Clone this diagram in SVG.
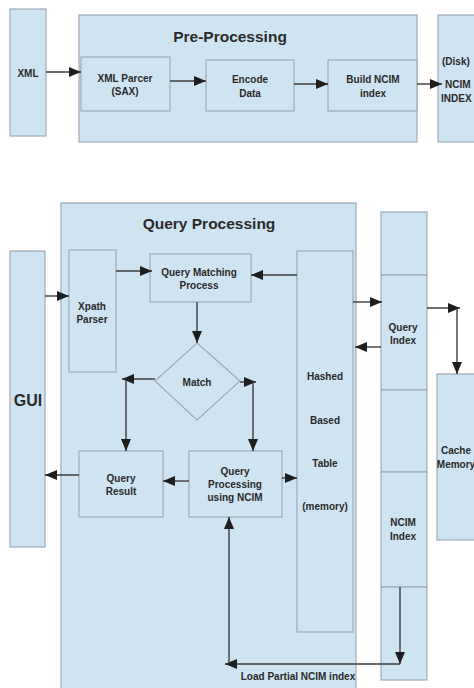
<svg xmlns="http://www.w3.org/2000/svg" width="474" height="688" viewBox="0 0 474 688">
  <defs>
    <marker id="arrow" markerUnits="userSpaceOnUse" markerWidth="12" markerHeight="10" viewBox="0 0 12 10" refX="12" refY="5" orient="auto">
      <path d="M0,0 L12,5 L0,10 Z" fill="#1e1e1e"/>
    </marker>
    <style>
      .box { fill: #cfe4f3; stroke: #9eaab6; stroke-width: 1.2; }
      .edge { fill: none; stroke: #3c3c3c; stroke-width: 1.4; marker-end: url(#arrow); }
      text { font-family: "Liberation Sans", Arial, sans-serif; font-weight: bold; fill: #2a2a2a; font-size: 10px; text-anchor: middle; }
      .title { font-size: 15.5px; }
      .big { font-size: 16px; }
      .start { text-anchor: start; }
    </style>
  </defs>

  <rect width="474" height="688" fill="#ffffff"/>

  <!-- Pre-processing stage -->
  <g id="xml">
    <rect class="box" x="10" y="9" width="36" height="127"/>
    <text x="28" y="77">XML</text>
  </g>
  <g id="pre-processing">
    <rect class="box" x="79" y="15" width="338" height="127"/>
    <text class="title" x="230" y="42">Pre-Processing</text>
  </g>
  <g id="xml-parser">
    <rect class="box" x="81" y="57" width="89" height="54"/>
    <text x="125" y="82">XML Parcer</text>
    <text x="125" y="95">(SAX)</text>
  </g>
  <g id="encode-data">
    <rect class="box" x="206" y="60" width="88" height="51"/>
    <text x="250" y="83">Encode</text>
    <text x="250" y="97">Data</text>
  </g>
  <g id="build-ncim">
    <rect class="box" x="328" y="60" width="89" height="51"/>
    <text x="373" y="83">Build NCIM</text>
    <text x="373" y="97">index</text>
  </g>
  <g id="disk">
    <rect class="box" x="438" y="15" width="40" height="127"/>
    <text class="start" x="442" y="65">(Disk)</text>
    <text class="start" x="445" y="88">NCIM</text>
    <text class="start" x="441" y="102">INDEX</text>
  </g>

  <!-- Query processing stage -->
  <g id="query-processing">
    <rect class="box" x="61" y="203" width="295" height="490"/>
    <text class="title" x="209" y="229">Query Processing</text>
  </g>
  <g id="gui">
    <rect class="box" x="10" y="251" width="35" height="296"/>
    <text class="big" x="28" y="406">GUI</text>
  </g>
  <g id="xpath-parser">
    <rect class="box" x="69" y="250" width="47" height="122"/>
    <text x="92" y="310">Xpath</text>
    <text x="92" y="323">Parser</text>
  </g>
  <g id="query-matching">
    <rect class="box" x="150" y="254" width="101" height="48"/>
    <text x="199" y="276">Query Matching</text>
    <text x="199" y="289">Process</text>
  </g>
  <g id="match">
    <polygon class="box" points="197,343 240,381 197,420 155,381"/>
    <text x="197" y="386">Match</text>
  </g>
  <g id="query-result">
    <rect class="box" x="79" y="451" width="84" height="66"/>
    <text x="121" y="482">Query</text>
    <text x="121" y="495">Result</text>
  </g>
  <g id="query-ncim">
    <rect class="box" x="189" y="451" width="93" height="66"/>
    <text x="235" y="475">Query</text>
    <text x="235" y="488">Processing</text>
    <text x="235" y="501">using NCIM</text>
  </g>
  <g id="hashed-table">
    <rect class="box" x="297" y="251" width="56" height="381"/>
    <text x="325" y="380">Hashed</text>
    <text x="325" y="424">Based</text>
    <text x="325" y="467">Table</text>
    <text x="325" y="510">(memory)</text>
  </g>
  <g id="index-column">
    <rect class="box" x="381" y="212" width="46" height="63"/>
    <rect class="box" x="381" y="275" width="46" height="115"/>
    <rect class="box" x="381" y="390" width="46" height="82"/>
    <rect class="box" x="381" y="472" width="46" height="115"/>
    <rect class="box" x="381" y="587" width="46" height="93"/>
    <text x="403" y="331">Query</text>
    <text x="403" y="344">Index</text>
    <text x="403" y="526">NCIM</text>
    <text x="403" y="540">Index</text>
  </g>
  <g id="cache-memory">
    <rect class="box" x="437" y="374" width="45" height="166"/>
    <text x="456" y="454">Cache</text>
    <text x="456" y="468">Memory</text>
  </g>

  <!-- Connectors -->
  <g id="connectors">
    <line class="edge" x1="46" y1="72" x2="81" y2="72"/>
    <line class="edge" x1="170" y1="81" x2="206" y2="81"/>
    <line class="edge" x1="294" y1="84" x2="328" y2="84"/>
    <line class="edge" x1="417" y1="84" x2="442" y2="84"/>

    <line class="edge" x1="45" y1="296" x2="69" y2="296"/>
    <line class="edge" x1="116" y1="271" x2="152" y2="271"/>
    <line class="edge" x1="297" y1="275" x2="251" y2="275"/>
    <line class="edge" x1="197" y1="302" x2="197" y2="343"/>

    <line class="edge" x1="155" y1="379" x2="122" y2="379"/>
    <line class="edge" x1="126" y1="379" x2="126" y2="451"/>
    <line class="edge" x1="240" y1="382" x2="256" y2="382"/>
    <line class="edge" x1="253" y1="382" x2="253" y2="451"/>

    <line class="edge" x1="189" y1="481" x2="163" y2="481"/>
    <line class="edge" x1="79" y1="475" x2="45" y2="475"/>
    <line class="edge" x1="282" y1="478" x2="297" y2="478"/>

    <line class="edge" x1="353" y1="302" x2="382" y2="302"/>
    <line class="edge" x1="381" y1="347" x2="355" y2="347"/>
    <line class="edge" x1="427" y1="308" x2="460" y2="308"/>
    <line class="edge" x1="457" y1="308" x2="457" y2="374"/>

    <line class="edge" x1="400" y1="587" x2="400" y2="664"/>
    <line class="edge" x1="400" y1="664" x2="225" y2="664"/>
    <line class="edge" x1="229" y1="664" x2="229" y2="517"/>
    <text x="298" y="680">Load Partial NCIM index</text>
  </g>
</svg>
